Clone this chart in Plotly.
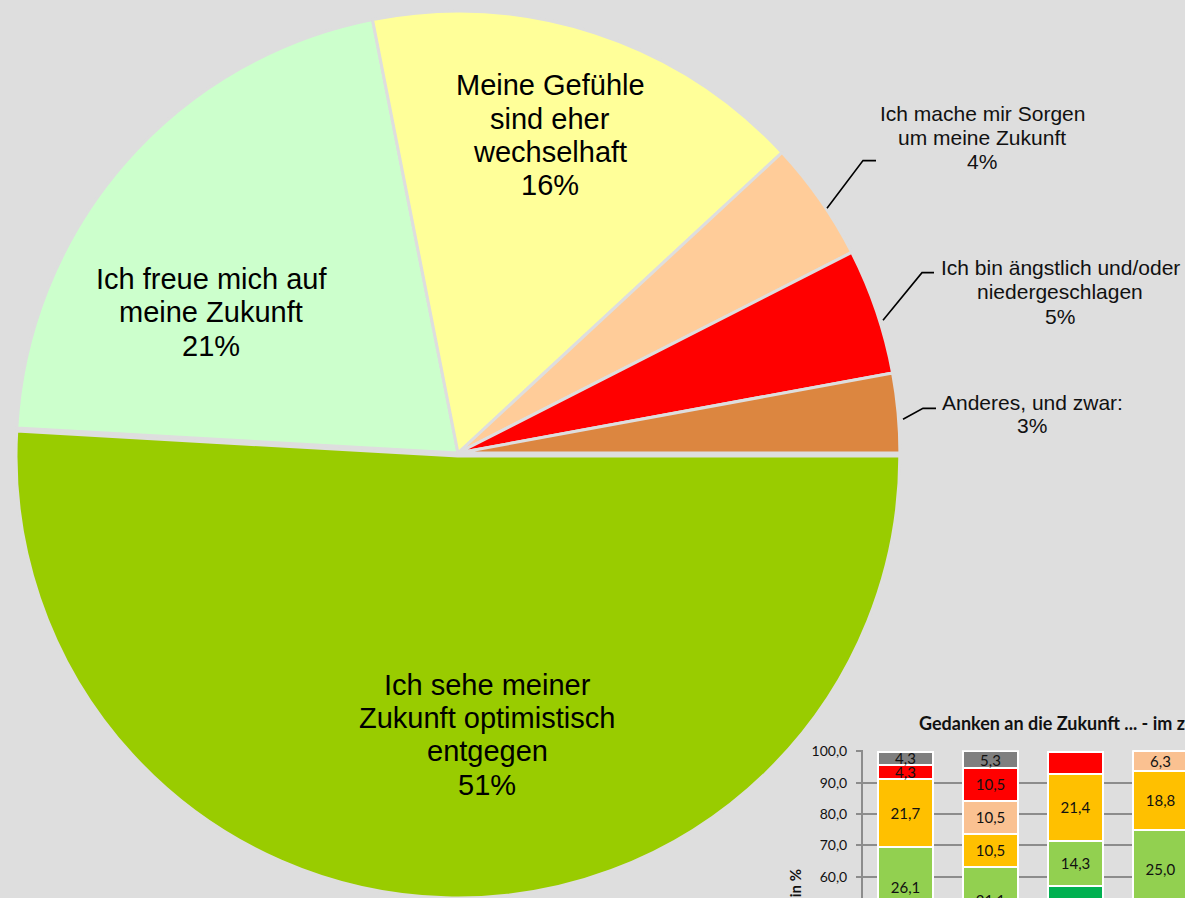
import plotly.graph_objects as go

W, H = 1185, 898
BG = "#dedede"

# ---- Pie: "Gedanken an die Zukunft" (share of answers, %) ----
pie_categories = [
    "Ich sehe meiner\nZukunft optimistisch\nentgegen",
    "Ich freue mich auf\nmeine Zukunft",
    "Meine Gefühle\nsind eher\nwechselhaft",
    "Ich mache mir Sorgen\num meine Zukunft",
    "Ich bin ängstlich und/oder\nniedergeschlagen",
    "Anderes, und zwar:",
]
pie_values = [50.9, 21.0, 16.2, 4.4, 4.6, 2.9]
pie_colors = ["#99cc00", "#ccffcc", "#ffff99", "#ffcc99", "#ff0000", "#dc8640"]
pie_pull = [0.007, 0, 0, 0, 0, 0]

# ---- Inset stacked bars: answers per survey wave (%), bottom to top ----
bar_x = [0, 1, 2, 3]
bar_dark_green = [43.5, 42.1, 57.1, 50.0]
bar_light_green = [26.1, 21.1, 14.3, 25.0]
bar_yellow = [21.7, 10.5, 21.4, 18.8]
bar_peach = [0.0, 10.5, 0.0, 6.3]
bar_red = [4.3, 10.5, 7.1, 0.0]
bar_gray = [4.3, 5.3, 0.0, 0.0]
red_label_shown = [True, True, False, False]

y_tick_vals = [0, 10, 20, 30, 40, 50, 60, 70, 80, 90, 100]
y_tick_text = ["0,0", "10,0", "20,0", "30,0", "40,0", "50,0",
               "60,0", "70,0", "80,0", "90,0", "100,0"]


def px_x(v):
    return v / W


def px_y(v):
    return 1 - v / H


def de_num(v):
    return f"{v:.1f}".replace(".", ",")


fig = go.Figure()

# pie sized to the left part of the canvas (center ~ (458, 449))
fig.add_trace(go.Pie(
    values=pie_values,
    labels=[c.replace("\n", " ") for c in pie_categories],
    marker=dict(colors=pie_colors, line=dict(color=BG, width=3)),
    sort=False,
    direction="clockwise",
    rotation=90,
    pull=pie_pull,
    textinfo="none",
    hoverinfo="skip",
    domain=dict(x=[px_x(9), px_x(907)], y=[0, 1]),
    showlegend=False,
))

bar_series = [
    ("#00b050", bar_dark_green, None),
    ("#92d050", bar_light_green, None),
    ("#ffc000", bar_yellow, None),
    ("#fac191", bar_peach, None),
    ("#ff0000", bar_red, red_label_shown),
    ("#7f7f7f", bar_gray, None),
]
for color, vals, shown in bar_series:
    texts = []
    for i, v in enumerate(vals):
        ok = v > 0 and (shown is None or shown[i])
        texts.append(de_num(v) if ok else "")
    fig.add_trace(go.Bar(
        x=bar_x, y=vals,
        marker=dict(color=color, line=dict(color="white", width=2)),
        text=texts,
        textposition="inside",
        insidetextanchor="middle",
        textangle=0,
        constraintext="none",
        textfont=dict(family="Lato", size=15, color="#111111"),
        hoverinfo="skip",
        showlegend=False,
    ))

annotations = []

# inside labels of the large slices: (index, center x, first line y, line step)
inside_pos = [(0, 487, 683, 33.5), (1, 211, 273, 34), (2, 550, 78, 33.5)]
for idx, cx, y0, step in inside_pos:
    lines = pie_categories[idx].split("\n") + [f"{round(pie_values[idx])}%"]
    for k, line in enumerate(lines):
        annotations.append(dict(
            x=px_x(cx), y=px_y(y0 + k * step), xref="paper", yref="paper",
            text=line, showarrow=False, xanchor="center", yanchor="middle",
            font=dict(family="Liberation Sans, Arial", size=29, color="black"),
        ))

# outside labels of the small slices
outside_pos = [(3, 982, 106, 24.5), (4, 1060, 262, 24.5), (5, 1032, 398, 23.5)]
for idx, cx, y0, step in outside_pos:
    lines = pie_categories[idx].split("\n") + [f"{round(pie_values[idx])}%"]
    for k, line in enumerate(lines):
        annotations.append(dict(
            x=px_x(cx), y=px_y(y0 + k * step), xref="paper", yref="paper",
            text=line, showarrow=False, xanchor="center", yanchor="middle",
            font=dict(family="Liberation Sans, Arial", size=21, color="#111111"),
        ))

# leader lines for the outside labels
leaders = [
    [(827, 202), (863, 154), (876, 154)],
    [(883, 315), (922, 267), (934, 267)],
    [(903, 415), (923, 404), (936, 404)],
]
shapes = []
for pts in leaders:
    path = "M " + " L ".join(f"{px_x(x):.5f},{px_y(y):.5f}" for x, y in pts)
    shapes.append(dict(type="path", xref="paper", yref="paper", path=path,
                       line=dict(color="black", width=1.6)))

# inset chart title and axis title
annotations.append(dict(
    x=px_x(917), y=px_y(721), xref="paper", yref="paper",
    text="<b>Gedanken an die Zukunft ... - im zeitlichen Vergleich</b>",
    showarrow=False, xanchor="left", yanchor="middle",
    font=dict(family="Lato", size=18, color="#111111"),
))
annotations.append(dict(
    x=px_x(795), y=px_y(867), xref="paper", yref="paper",
    text="<b>Angaben in %</b>", textangle=-90,
    showarrow=False, xanchor="center", yanchor="top",
    font=dict(family="Lato", size=15, color="#111111"),
))

fig.update_layout(
    width=W, height=H,
    margin=dict(l=0, r=0, t=0, b=0),
    paper_bgcolor=BG,
    plot_bgcolor="rgba(0,0,0,0)",
    barmode="stack",
    bargap=0.353,
    showlegend=False,
    annotations=annotations,
    shapes=shapes,
    xaxis=dict(
        domain=[px_x(863), 1],
        range=[-0.5, -0.5 + (W - 863) / 85],
        showticklabels=False, showgrid=False, zeroline=False,
        showline=False, fixedrange=True,
    ),
    yaxis=dict(
        domain=[0, px_y(749)],
        range=[53.2, 100.3],
        tickvals=y_tick_vals, ticktext=y_tick_text,
        ticks="outside", ticklen=5, tickwidth=2, tickcolor="#8c8c8c",
        showgrid=True, gridcolor="#8c8c8c", gridwidth=2,
        showline=True, linecolor="#8c8c8c", linewidth=2,
        zeroline=False, ticklabelstandoff=6,
        tickfont=dict(family="Lato", size=14, color="#111111"),
        fixedrange=True,
    ),
)

fig.write_html("out.html")
